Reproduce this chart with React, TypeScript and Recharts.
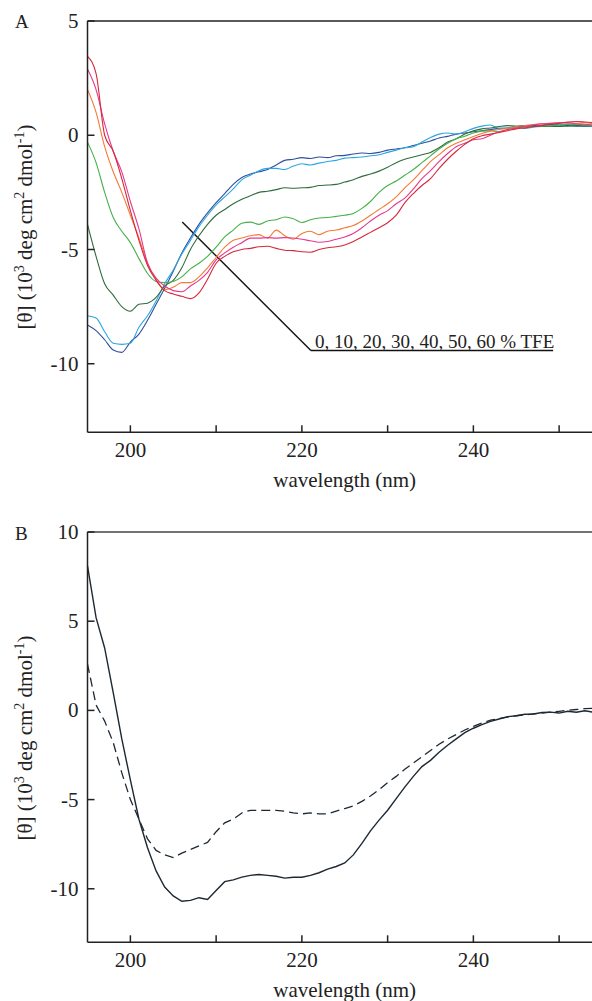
import React from "react";
import { LineChart, Line, XAxis, YAxis, ReferenceLine } from "recharts";

// wavelength grid (nm) shared by both panels
const wavelengths = [
  195, 196, 197, 198, 199, 200, 201, 202, 203, 204,
  205, 206, 207, 208, 209, 210, 211, 212, 213, 214,
  215, 216, 217, 218, 219, 220, 221, 222, 223, 224,
  225, 226, 227, 228, 229, 230, 231, 232, 233, 234,
  235, 236, 237, 238, 239, 240, 241, 242, 243, 244,
  245, 246, 247, 248, 249, 250, 251, 252, 253, 254,
];

// Panel A: TFE titration, [θ] in 10^3 deg cm2 dmol-1
const tfe0 = [
  -8.3, -8.55, -8.95, -9.4, -9.5, -9.05, -8.7, -8.1, -7.4, -6.7,
  -5.95, -5.15, -4.5, -3.9, -3.4, -2.95, -2.55, -2.15, -1.85, -1.7,
  -1.6, -1.5, -1.3, -1.1, -1.05, -0.98, -1.02, -0.95, -0.98, -0.9,
  -0.88, -0.82, -0.78, -0.8, -0.75, -0.65, -0.6, -0.55, -0.45, -0.35,
  -0.25, -0.12, -0.05, 0.05, 0.1, 0.15, 0.2, 0.25, 0.3, 0.32,
  0.38, 0.4, 0.42, 0.45, 0.47, 0.45, 0.42, 0.4, 0.42, 0.4,
];
const tfe10 = [
  -7.9, -8.0, -8.6, -9.1, -9.15, -9.1, -8.4, -7.9, -7.25, -6.5,
  -5.9, -5.2, -4.6, -4.0, -3.5, -3.05, -2.7, -2.35, -1.95, -1.75,
  -1.55, -1.45, -1.45, -1.5, -1.35, -1.25, -1.3, -1.22, -1.15, -1.1,
  -1.0, -0.98, -0.95, -0.9, -0.85, -0.75, -0.65, -0.55, -0.5, -0.3,
  -0.1, 0.05, 0.1, 0.05, 0.15, 0.3, 0.4, 0.45, 0.3, 0.32,
  0.35, 0.3, 0.35, 0.38, 0.4, 0.45, 0.5, 0.45, 0.4, 0.38,
];
const tfe20 = [
  -3.9, -5.3, -6.5, -7.0, -7.5, -7.7, -7.4, -7.35, -7.1, -6.6,
  -6.35, -5.8, -5.0, -4.4, -3.9, -3.5, -3.25, -3.0, -2.8, -2.65,
  -2.5, -2.45, -2.38, -2.3, -2.32, -2.3, -2.28, -2.2, -2.18, -2.15,
  -2.05, -1.95, -1.8, -1.7, -1.57, -1.4, -1.2, -1.05, -0.95, -0.85,
  -0.75, -0.55, -0.3, -0.15, 0.05, 0.2, 0.28, 0.32, 0.38, 0.42,
  0.4, 0.42, 0.4, 0.38, 0.4, 0.38, 0.4, 0.42, 0.4, 0.42,
];
const tfe30 = [
  -0.3, -1.2, -2.5, -3.6, -4.2, -4.7, -5.4, -6.05, -6.4, -6.45,
  -6.4, -6.2, -5.85, -5.6, -5.3, -4.9, -4.45, -4.15, -3.85, -3.8,
  -3.9, -3.75, -3.7, -3.58, -3.65, -3.82, -3.7, -3.62, -3.6, -3.55,
  -3.5, -3.42, -3.2, -2.9, -2.5, -2.2, -2.0, -1.75, -1.5, -1.2,
  -0.9, -0.6, -0.35, -0.15, -0.04, 0.1, 0.18, 0.2, 0.15, 0.25,
  0.32, 0.35, 0.38, 0.4, 0.42, 0.45, 0.47, 0.48, 0.45, 0.42,
];
const tfe40 = [
  2.0, 1.0, -0.5, -1.6, -2.5, -3.5, -4.5, -5.6, -6.3, -6.75,
  -6.65, -6.45, -6.45, -6.2, -5.8, -5.35, -4.9, -4.6, -4.5, -4.4,
  -4.35, -4.5, -4.15, -4.4, -4.55, -4.3, -4.2, -4.35, -4.2, -4.15,
  -4.05, -3.95, -3.75, -3.5, -3.25, -3.0, -2.7, -2.3, -1.95, -1.55,
  -1.15, -0.85, -0.55, -0.35, -0.2, -0.05, 0.08, 0.18, 0.25, 0.3,
  0.38, 0.42, 0.47, 0.5, 0.52, 0.55, 0.55, 0.52, 0.55, 0.5,
];
const tfe50 = [
  2.9, 2.0, 0.5, -0.7, -1.6, -2.9, -4.1, -5.6, -6.25, -6.6,
  -6.8, -6.85, -6.6, -6.35, -6.0, -5.45, -5.15, -4.9, -4.7, -4.5,
  -4.5, -4.48, -4.5, -4.48, -4.5, -4.55, -4.62, -4.68, -4.65, -4.55,
  -4.45, -4.3, -4.05, -3.75, -3.5, -3.3, -3.0, -2.75, -2.35, -1.9,
  -1.55, -1.15, -0.8, -0.5, -0.35, -0.2, -0.15, 0.0, 0.15, 0.25,
  0.32, 0.38, 0.45, 0.5, 0.52, 0.55, 0.55, 0.5, 0.48, 0.45,
];
const tfe60 = [
  3.45, 2.7, 0.0, -0.7, -1.9, -3.3, -4.6, -5.7, -6.35, -6.8,
  -6.95, -7.05, -7.15, -6.9, -6.3, -5.6, -5.3, -5.1, -5.0, -4.95,
  -4.88, -4.86, -4.95, -5.03, -5.05, -5.1, -5.12, -5.0, -4.92, -4.88,
  -4.8, -4.65, -4.45, -4.25, -4.05, -3.83, -3.5, -2.96, -2.55, -2.2,
  -1.9, -1.45, -1.05, -0.7, -0.4, -0.15, -0.02, 0.05, 0.12, 0.2,
  0.28, 0.32, 0.38, 0.42, 0.48, 0.52, 0.58, 0.6, 0.58, 0.55,
];

// Panel B: solid and dashed spectra
const solidB = [
  8.1, 5.2, 3.5, 1.0, -1.6, -3.9, -6.1, -7.7, -9.0, -9.9,
  -10.4, -10.7, -10.65, -10.5, -10.6, -10.1, -9.6, -9.5, -9.35, -9.25,
  -9.2, -9.25, -9.3, -9.4, -9.35, -9.35, -9.25, -9.1, -8.9, -8.75,
  -8.55, -8.1, -7.45, -6.75, -6.15, -5.6, -4.95, -4.3, -3.7, -3.15,
  -2.8, -2.35, -1.95, -1.6, -1.25, -1.0, -0.8, -0.62, -0.48, -0.35,
  -0.3, -0.22, -0.2, -0.12, -0.1, -0.15, -0.05, -0.1, -0.02, -0.1,
];
const dashedB = [
  2.6, 0.3, -0.6, -1.8, -3.5, -5.0, -6.1, -7.2, -7.85, -8.1,
  -8.25, -8.0, -7.8, -7.6, -7.4, -6.8, -6.3, -6.1, -5.75, -5.6,
  -5.6, -5.6, -5.6, -5.65, -5.75, -5.8, -5.75, -5.8, -5.8, -5.65,
  -5.5, -5.35, -5.1, -4.8, -4.45, -4.05, -3.7, -3.3, -2.95, -2.6,
  -2.25, -1.9, -1.6, -1.35, -1.1, -0.9, -0.7, -0.55, -0.45, -0.38,
  -0.3, -0.25, -0.2, -0.15, -0.1, -0.05, 0.0, 0.05, 0.1, 0.12,
];

const xTicks = [200, 210, 220, 230, 240, 250];
const xLabelled = [200, 220, 240];
const yTicksA = [5, 0, -5, -10];
const yTicksB = [10, 5, 0, -5, -10];

// leader line from the curves to the legend text (panel A, data coords)
const leaderA = [
  { x: 206.05, y: -3.8 },
  { x: 221.05, y: -9.42 },
  { x: 249.3, y: -9.42 },
];

const tfeSeries = [
  { key: "tfe0", color: "#2e4f9e" },
  { key: "tfe10", color: "#2aa7df" },
  { key: "tfe20", color: "#2f6b3b" },
  { key: "tfe30", color: "#46b04a" },
  { key: "tfe40", color: "#f47a35" },
  { key: "tfe50", color: "#e6398e" },
  { key: "tfe60", color: "#d5283a" },
];

const FONT = "'Liberation Serif', 'DejaVu Serif', serif";
const INK = "#222";

const dataA = wavelengths.map((w, i) => ({
  w,
  tfe0: tfe0[i],
  tfe10: tfe10[i],
  tfe20: tfe20[i],
  tfe30: tfe30[i],
  tfe40: tfe40[i],
  tfe50: tfe50[i],
  tfe60: tfe60[i],
}));

const dataB = wavelengths.map((w, i) => ({ w, solid: solidB[i], dashed: dashedB[i] }));

function YTick(props: any) {
  const { x, y, payload } = props;
  return (
    <g>
      <line x1={x} x2={x + 7} y1={y} y2={y} stroke={INK} strokeWidth={1.5} />
      <text x={x - 9} y={y} dy={7} textAnchor="end" fontSize={21} fontFamily={FONT} fill={INK}>
        {payload.value}
      </text>
    </g>
  );
}

function XTick(props: any) {
  const { x, y, payload } = props;
  return (
    <g>
      <line x1={x} x2={x} y1={y} y2={y - 7} stroke={INK} strokeWidth={1.5} />
      {xLabelled.includes(payload.value) && (
        <text x={x} y={y} dy={24.5} textAnchor="middle" fontSize={21} fontFamily={FONT} fill={INK}>
          {payload.value}
        </text>
      )}
    </g>
  );
}

function YTitle({ cy }: { cy: number }) {
  return (
    <text
      transform={`translate(32, ${cy}) rotate(-90)`}
      textAnchor="middle"
      fontSize={21}
      fontFamily={FONT}
      fill={INK}
    >
      [θ] (10
      <tspan dy={-8} fontSize={14}>3</tspan>
      <tspan dy={8}> deg cm</tspan>
      <tspan dy={-8} fontSize={14}>2</tspan>
      <tspan dy={8}> dmol</tspan>
      <tspan dy={-8} fontSize={14}>-1</tspan>
      <tspan dy={8}>)</tspan>
    </text>
  );
}

export default function App() {
  return (
    <div
      style={{
        position: "absolute",
        left: 0,
        top: 0,
        width: 592,
        height: 1001,
        overflow: "hidden",
        background: "#fff",
      }}
    >
      {/* Panel A */}
      <div style={{ position: "absolute", left: 0, top: 0 }}>
        <LineChart width={602} height={500} data={dataA} margin={{ top: 21, right: 0, bottom: 0, left: 0 }}>
          <XAxis
            dataKey="w"
            type="number"
            domain={[195, 255]}
            ticks={xTicks}
            height={67.7}
            tickSize={0}
            tickMargin={0}
            tickLine={false}
            axisLine={{ stroke: INK, strokeWidth: 1.5 }}
            tick={(p: any) => <XTick {...p} />}
            interval={0}
          />
          <YAxis
            type="number"
            domain={[-13, 5]}
            ticks={yTicksA}
            width={87.5}
            tickSize={0}
            tickMargin={0}
            tickLine={false}
            axisLine={{ stroke: INK, strokeWidth: 1.5 }}
            tick={(p: any) => <YTick {...p} />}
            interval={0}
          />
          <ReferenceLine y={5} stroke={INK} strokeWidth={1.5} />
          <ReferenceLine segment={[leaderA[0], leaderA[1]]} stroke="#111" strokeWidth={1.4} />
          <ReferenceLine segment={[leaderA[1], leaderA[2]]} stroke="#111" strokeWidth={1.4} />
          {tfeSeries.map((s) => (
            <Line
              key={s.key}
              type="monotone"
              dataKey={s.key}
              stroke={s.color}
              strokeWidth={1.1}
              dot={false}
              isAnimationActive={false}
            />
          ))}
        </LineChart>
      </div>

      {/* Panel B */}
      <div style={{ position: "absolute", left: 0, top: 500 }}>
        <LineChart width={602} height={501} data={dataB} margin={{ top: 32, right: 0, bottom: 0, left: 0 }}>
          <XAxis
            dataKey="w"
            type="number"
            domain={[195, 255]}
            ticks={xTicks}
            height={58.7}
            tickSize={0}
            tickMargin={0}
            tickLine={false}
            axisLine={{ stroke: INK, strokeWidth: 1.5 }}
            tick={(p: any) => <XTick {...p} />}
            interval={0}
          />
          <YAxis
            type="number"
            domain={[-13, 10]}
            ticks={yTicksB}
            width={87.5}
            tickSize={0}
            tickMargin={0}
            tickLine={false}
            axisLine={{ stroke: INK, strokeWidth: 1.5 }}
            tick={(p: any) => <YTick {...p} />}
            interval={0}
          />
          <ReferenceLine y={10} stroke="#444" strokeWidth={1.5} />
          <Line
            type="linear"
            dataKey="dashed"
            stroke="#1c2833"
            strokeWidth={1.3}
            strokeDasharray="9 5"
            dot={false}
            isAnimationActive={false}
          />
          <Line
            type="linear"
            dataKey="solid"
            stroke="#1c2833"
            strokeWidth={1.4}
            dot={false}
            isAnimationActive={false}
          />
        </LineChart>
      </div>

      {/* titles and annotations */}
      <svg
        width={592}
        height={1001}
        style={{ position: "absolute", left: 0, top: 0, pointerEvents: "none" }}
      >
        <text x={15} y={28} fontSize={19} fontFamily={FONT} fill={INK}>A</text>
        <text x={15} y={540} fontSize={19} fontFamily={FONT} fill={INK}>B</text>
        <YTitle cy={227} />
        <YTitle cy={738} />
        <text x={344.7} y={487} textAnchor="middle" fontSize={21} fontFamily={FONT} fill={INK}>
          wavelength (nm)
        </text>
        <text x={344.7} y={997} textAnchor="middle" fontSize={21} fontFamily={FONT} fill={INK}>
          wavelength (nm)
        </text>
        <text x={315} y={348} fontSize={19} fontFamily={FONT} fill={INK}>
          0, 10, 20, 30, 40, 50, 60 % TFE
        </text>
      </svg>
    </div>
  );
}
